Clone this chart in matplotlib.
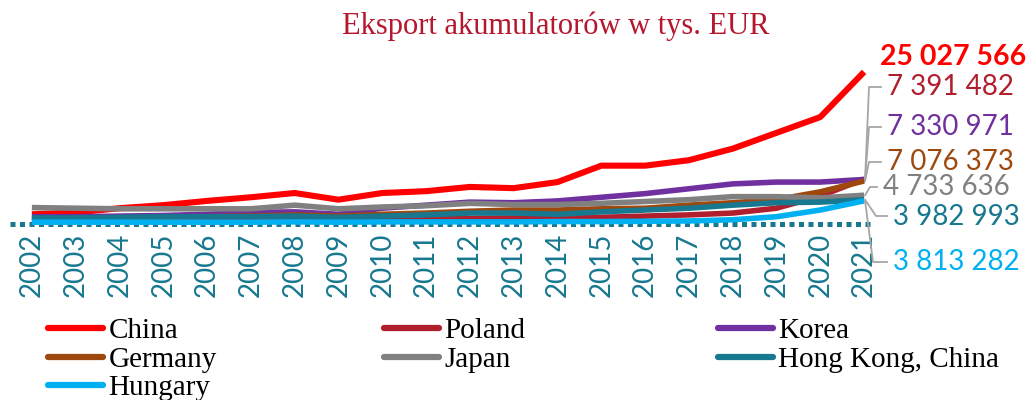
import matplotlib
matplotlib.use("Agg")
import matplotlib.pyplot as plt
from matplotlib.lines import Line2D

years = list(range(2002, 2022))
year_labels = [str(y) for y in years]

# values in millions of EUR (thousands EUR / 1000)
china   = [1.6, 1.9, 2.6, 3.1, 3.8, 4.4, 5.1, 4.0, 5.1, 5.4, 6.1, 5.9, 6.9, 9.6, 9.6, 10.5, 12.4, 15.0, 17.6, 25.027566]
poland  = [0.5, 0.5, 0.5, 0.5, 0.5, 0.5, 0.6, 0.6, 0.7, 0.8, 0.9, 1.0, 1.0, 1.1, 1.3, 1.5, 1.8, 2.6, 4.6, 7.391482]
korea   = [1.2, 1.2, 1.3, 1.4, 1.6, 1.9, 2.0, 1.6, 2.6, 3.1, 3.6, 3.5, 3.8, 4.4, 5.0, 5.8, 6.6, 6.9, 6.9, 7.330971]
germany = [0.8, 0.9, 1.0, 1.1, 1.2, 1.3, 1.5, 1.3, 1.6, 1.8, 2.1, 2.3, 2.3, 2.5, 2.6, 3.1, 3.5, 4.0, 5.3, 7.076373]
japan   = [2.7, 2.6, 2.5, 2.5, 2.5, 2.5, 3.1, 2.5, 2.8, 3.0, 3.4, 3.2, 3.2, 3.4, 3.7, 4.0, 4.5, 4.5, 4.3, 4.733636]
hk      = [1.0, 1.0, 1.1, 1.2, 1.2, 1.2, 1.3, 1.1, 1.3, 1.5, 1.8, 1.8, 1.6, 2.0, 2.3, 2.6, 3.1, 3.5, 3.6, 3.982993]
hungary = [0.3, 0.3, 0.3, 0.3, 0.3, 0.3, 0.35, 0.3, 0.35, 0.35, 0.35, 0.35, 0.4, 0.4, 0.45, 0.5, 0.7, 1.2, 2.3, 3.813282]

series_names = ["China", "Poland", "Korea", "Germany", "Japan", "Hong Kong, China", "Hungary"]
series_vals = [china, poland, korea, germany, japan, hk, hungary]
series_colors = ["#FF0000", "#B11F2E", "#7030A0", "#9E480E", "#808080", "#17788F", "#00B0F0"]
end_labels = ["25 027 566", "7 391 482", "7 330 971", "7 076 373", "4 733 636", "3 982 993", "3 813 282"]

title = "Eksport akumulatorów w tys. EUR"

W, H = 1033, 400
fig = plt.figure(figsize=(W / 100, H / 100), dpi=100)
ax = fig.add_axes([10 / W, (H - 224) / H, 876 / W, 158 / H])

x = list(range(len(years)))
lines = {}
for name, vals, col in zip(series_names, series_vals, series_colors):
    lw = 4.4 if name == "China" else 4.0
    ln, = ax.plot(x, vals, color=col, lw=lw, solid_capstyle="butt", solid_joinstyle="round",
                  label=name, zorder=3, clip_on=False)
    lines[name] = ln

ax.set_xlim(-0.5, len(years) - 0.5)
ax.set_ylim(0, 26)
ax.axhline(0, xmin=0.0, xmax=0.985, color="#17788F", lw=3.6, ls=(0, (1, 0.9)), zorder=1, clip_on=False)
for s in ax.spines.values():
    s.set_visible(False)
ax.set_yticks([])
ax.set_xticks(x)
ax.set_xticklabels(year_labels, rotation=90, fontsize=20, color="#17788F", family="Lato")
ax.tick_params(axis="x", length=0, pad=6)

fig.text(556 / W, 1 - 34 / H, title, ha="center", va="baseline", fontsize=22,
         color="#B5172F", family="Liberation Serif")

# end-of-line labels with leader lines (positions in figure pixels)
label_pos = [(880, 57), (887, 87), (887, 127), (887, 162), (883, 187), (893, 217), (893, 262)]
leader_mid = [None, (869, 87), (869, 127), (869, 162), (870, 187), (876, 216), (873, 262)]
for i, (name, vals, col) in enumerate(zip(series_names, series_vals, series_colors)):
    lx, ly = label_pos[i]
    fig.text(lx / W, 1 - ly / H, end_labels[i], ha="left", va="center", fontsize=20.5 if i == 0 else 20,
             color=col, family="Lato", fontweight="bold" if i == 0 else "normal")
    if leader_mid[i] is not None:
        px, py = ax.transData.transform((x[-1], vals[-1]))
        mx, my = leader_mid[i]
        xs_pix = [px + 1, mx, lx - 6]
        ys_pix = [py, H - my, H - my]
        fig.add_artist(Line2D([v / W for v in xs_pix], [v / H for v in ys_pix],
                              color="#A6A6A6", lw=1.3, zorder=2))

# legend: three columns, filled row by row
columns = [["China", "Germany", "Hungary"], ["Poland", "Japan"], ["Korea", "Hong Kong, China"]]
col_x = [48, 384, 718]
for names, cx in zip(columns, col_x):
    handles = [Line2D([], [], color=lines[n].get_color(), lw=4.5, solid_capstyle="round") for n in names]
    fig.legend(handles, names, loc="upper left", bbox_to_anchor=(cx / W, 1 - 318 / H),
               ncol=1, frameon=False, handlelength=1.9, handletextpad=0.17,
               labelspacing=0.07, borderaxespad=0, borderpad=0,
               prop={"family": "Liberation Serif", "size": 21})

fig.savefig("out.png", dpi=100)
